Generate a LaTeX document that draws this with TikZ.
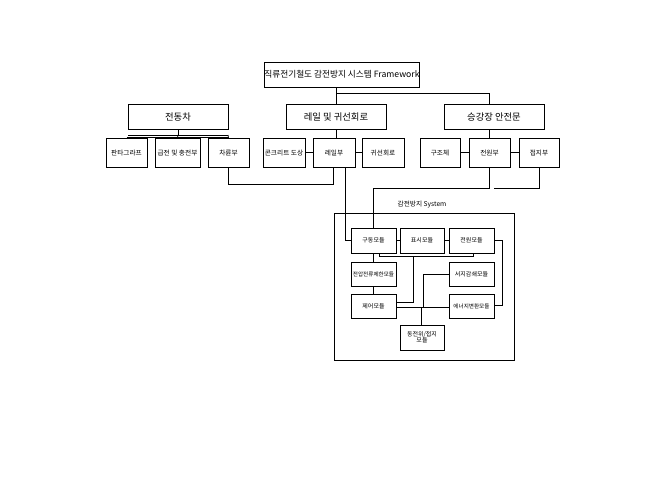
\documentclass[tikz,border=0pt]{standalone}
\usepackage{fontspec}
\setmainfont{Noto Sans CJK KR}
\begin{document}
\begin{tikzpicture}[x=0.75pt,y=-0.75pt,
  bx/.style={draw,line width=0.6pt,fill=white,inner sep=0pt,align=center},
  ln/.style={line width=0.6pt}]
\useasboundingbox (0,0) rectangle (671,487);
\newcommand{\bx}[6]{\node[bx,minimum width=#4*0.75pt-#2*0.75pt,minimum height=#5*0.75pt-#3*0.75pt,font=\fontsize{#6}{#6}\selectfont] (#1) at ({(#2+#4)/2},{(#3+#5)/2})}
\bx{t}{270}{62}{414}{87}{6.5}{직류전기철도 감전방지 시스템 Framework};
\bx{a}{128}{104}{228}{129}{7}{전동차};
\bx{b}{286}{104}{386}{129}{7}{레일 및 귀선회로};
\bx{c}{444}{104}{544}{129}{7}{승강장 안전문};
\bx{a1}{106}{138}{147}{167}{5}{판타그라프};
\bx{a2}{155}{138}{200}{167}{5}{급전 및 충전부};
\bx{a3}{208}{138}{249}{167}{5}{차륜부};
\bx{b1}{263}{138}{305}{167}{5}{콘크리트 도상};
\bx{b2}{313}{138}{355}{167}{5}{레일부};
\bx{b3}{362}{138}{404}{167}{5}{귀선회로};
\bx{c1}{420}{138}{460}{167}{5}{구조체};
\bx{c2}{469}{138}{510}{167}{5}{전원부};
\bx{c3}{519}{138}{559}{167}{5}{접지부};
\node[draw,line width=0.6pt,minimum width=180*0.75pt,minimum height=147*0.75pt,inner sep=0pt] (sys) at (424,286.5) {};
\node[font=\fontsize{5}{5}\selectfont] (sl) at (422,205) {감전방지 System};
\bx{m1}{351}{228}{396}{253}{4.5}{구동모듈};
\bx{m2}{400}{228}{444}{253}{4.5}{표시모듈};
\bx{m3}{449}{228}{494}{253}{4.5}{전원모듈};
\bx{m4}{351}{262}{396}{286}{4.2}{전압전류제한모듈};
\bx{m5}{449}{262}{494}{286}{4.5}{서지감쇄모듈};
\bx{m6}{351}{294}{396}{318}{4.5}{제어모듈};
\bx{m7}{449}{294}{494}{318}{4.2}{에너지변환모듈};
\bx{m8}{400}{325}{444}{350}{4.5}{동전위/접지\\모듈};
% top tree
\draw[ln] (t.south -| b.north) ++(-6,0) coordinate (tb);
\draw[ln] (336,87) -- (336,104);
\draw[ln] (336,93) -| (c.north -| c2.north);
\draw[ln] (a.south) -- (178,135);
\draw[ln] (a1.north) |- (a3.north) ++(0,0);
\draw[ln] (128,135) -- (228,135);
\draw[ln] (a2.north) -- (178,135) (a3.north) -- (228,135);
\draw[ln] (b.south -| 336,0) -- (336,138);
\draw[ln] (b1.east) -- (b2.west) (b2.east) -- (b3.west);
\draw[ln] (c.south -| c2.north) -- (c2.north);
\draw[ln] (c1.east) -- (c2.west) (c2.east) -- (c3.west);
% cross links
\draw[ln] (a3.south) |- (333,184) -- (333,167);
\draw[ln] (345,167) |- (m1.west);
\draw[ln] (c2.south) |- (373,188) -- (373,228);
\draw[ln] (c3.south |- 0,167) |- (494,188);
% system
\draw[ln] (m1.east) -- (m2.west) (m2.east) -- (m3.west);
\draw[ln] (m1.south) -- (m4.north) (m4.south) -- (m6.north);
\draw[ln] (379,253) |- (473,256) -- (473,253);
\draw[ln] (413,256) |- (396,302);
\draw[ln] (396,307) -- (449,307);
\draw[ln] (m5.west) -| (423,307);
\draw[ln] (421,325) -- (421,307);
\draw[ln] (m3.east) -| (502,305) -- (494,305);
\end{tikzpicture}
\end{document}
